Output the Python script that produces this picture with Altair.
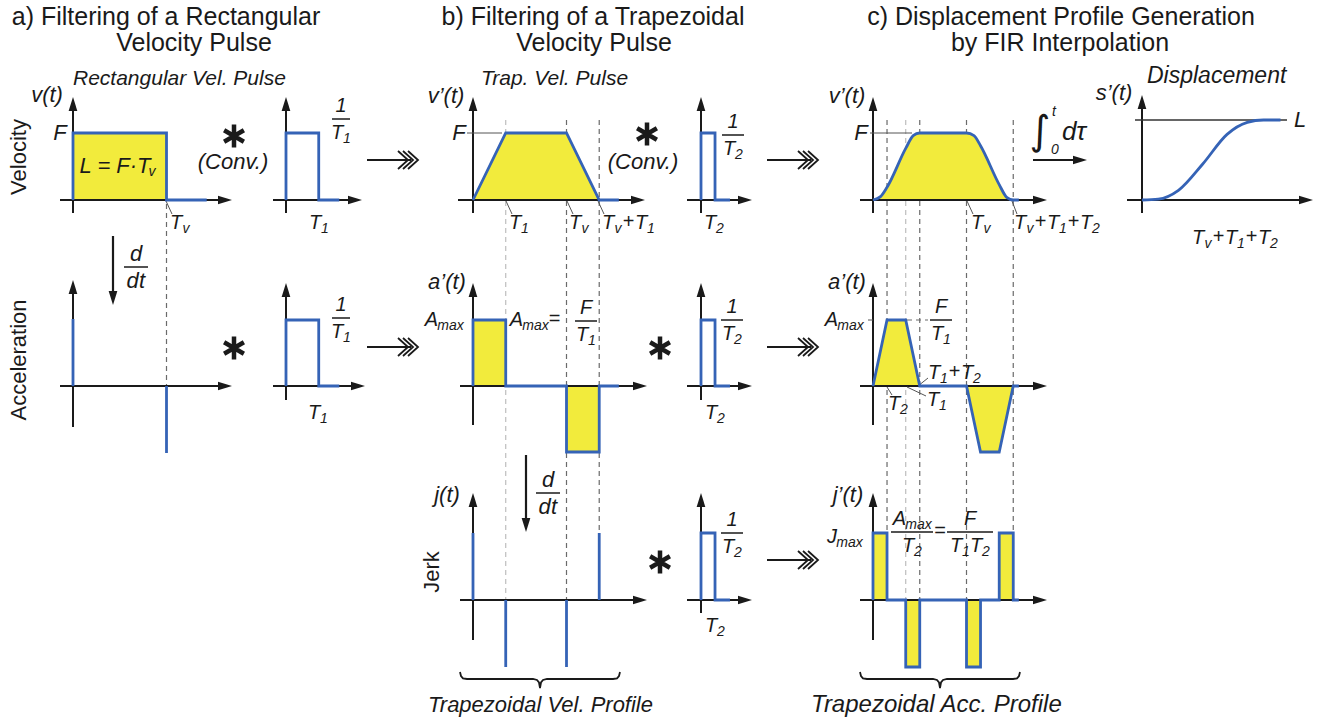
import altair as alt
import pandas as pd

W, H = 1330, 722
BLUE = "#3563b6"
YEL = "#f2eb3c"
INK = "#1a1a1a"
FONT = "Liberation Sans"

# ---------------- profile data (time in Tv units, amplitude normalised) -------------
rect_vel_t = [0, 0, 1.0, 1.0, 1.43]
rect_vel_v = [0, 1, 1, 0, 0]
filt1_t = [0, 0, 0.35, 0.35, 0.57]
filt1_v = [0, 1, 1, 0, 0]
filt2_t = [0, 0, 0.15, 0.15, 0.31]
filt2_v = [0, 1, 1, 0, 0]
acc_imp_t = [0, 1.0]
acc_imp_v = [1, -1]
trap_vel_t = [0, 0.35, 1.0, 1.35, 1.56]
trap_vel_v = [0, 1, 1, 0, 0]
trap_acc_t = [0, 0, 0.35, 0.35, 1.0, 1.0, 1.35, 1.35, 1.56]
trap_acc_v = [0, 1, 1, 0, 0, -1, -1, 0, 0]
jerk_imp_t = [0, 0.35, 1.0, 1.35]
jerk_imp_v = [1, -1, -1, 1]
fir_vel_t = [0, 0.08, 0.15, 0.35, 0.43, 0.5, 1.0, 1.08, 1.15, 1.35, 1.43, 1.5, 1.56]
fir_vel_v = [0, 0.05, 0.19, 0.77, 0.96, 1, 1, 0.96, 0.81, 0.23, 0.04, 0, 0]
fir_acc_t = [0, 0.15, 0.35, 0.5, 1.0, 1.15, 1.35, 1.5, 1.56]
fir_acc_v = [0, 1, 1, 0, 0, -1, -1, 0, 0]
fir_jerk_t = [0, 0, 0.15, 0.15, 0.35, 0.35, 0.5, 0.5, 1.0, 1.0, 1.15, 1.15, 1.35, 1.35, 1.5, 1.5, 1.56]
fir_jerk_v = [0, 1, 1, 0, 0, -1, -1, 0, 0, -1, -1, 0, 0, 1, 1, 0, 0]
disp_t = [0, 0.2, 0.45, 0.75, 1.05, 1.3, 1.5, 1.71]
disp_s = [0, 0.01, 0.12, 0.45, 0.82, 0.97, 1.0, 1.0]
dash_a_t = [1.0]
dash_b_t = [0.35, 1.0, 1.35]
dash_c_t = [0.15, 0.35, 0.5, 1.0, 1.5]

# ---------------- layout: panel origin (x0, baseline y0, px/time, px/amplitude) ------
PAN = {
    "A1": (73, 200, 93.5, 67), "A1f": (286, 200, 93.5, 67),
    "A2": (73, 386, 93.5, 67), "A2f": (286, 386, 93.5, 66),
    "B1": (473, 200, 93.5, 67), "B1f": (701, 200, 93.5, 67),
    "B2": (473, 386, 93.5, 66), "B2f": (701, 386, 93.5, 66),
    "B3": (473, 600, 93.5, 67), "B3f": (701, 600, 93.5, 67),
    "C1": (873, 200, 93.5, 67), "C2": (873, 386, 93.5, 66), "C3": (873, 600, 93.5, 67),
    "D": (1142, 200, 81, 80),
}
# axis extents: left, right, down, up (px)
AX = {
    "A1": (13, 159, 13, 103), "A1f": (13, 76, 13, 103),
    "A2": (13, 159, 41, 106), "A2f": (13, 79, 14, 103),
    "B1": (15, 172, 13, 103), "B1f": (14, 51, 13, 103),
    "B2": (13, 174, 39, 103), "B2f": (14, 51, 14, 103),
    "B3": (13, 174, 40, 107), "B3f": (14, 51, 13, 107),
    "C1": (13, 174, 13, 103), "C2": (13, 174, 39, 103), "C3": (13, 174, 40, 107),
    "D": (15, 171, 13, 105),
}


def px(p, t):
    return PAN[p][0] + t * PAN[p][2]


def py(p, v):
    return PAN[p][1] - v * PAN[p][3]


def prof(rows, pid, p, ts, vs):
    for i, (t, v) in enumerate(zip(ts, vs)):
        rows.append(dict(id=pid, o=i, x=px(p, t), y=py(p, v), base=PAN[p][1]))


fill_lin, fill_mono, strokes_lin, strokes_mono = [], [], [], []
prof(fill_lin, "A1", "A1", rect_vel_t, rect_vel_v)
prof(fill_lin, "B1", "B1", trap_vel_t, trap_vel_v)
prof(fill_lin, "B2", "B2", trap_acc_t, trap_acc_v)
prof(fill_lin, "C2", "C2", fir_acc_t, fir_acc_v)
prof(fill_lin, "C3", "C3", fir_jerk_t, fir_jerk_v)
prof(fill_mono, "C1", "C1", fir_vel_t, fir_vel_v)

prof(strokes_lin, "A1", "A1", rect_vel_t, rect_vel_v)
prof(strokes_lin, "A1f", "A1f", filt1_t, filt1_v)
prof(strokes_lin, "A2f", "A2f", filt1_t, filt1_v)
prof(strokes_lin, "B1", "B1", trap_vel_t, trap_vel_v)
prof(strokes_lin, "B1f", "B1f", filt2_t, filt2_v)
prof(strokes_lin, "B2", "B2", trap_acc_t, trap_acc_v)
prof(strokes_lin, "B2f", "B2f", filt2_t, filt2_v)
prof(strokes_lin, "B3f", "B3f", filt2_t, filt2_v)
prof(strokes_lin, "C2", "C2", fir_acc_t, fir_acc_v)
prof(strokes_lin, "C3", "C3", fir_jerk_t, fir_jerk_v)
prof(strokes_mono, "C1", "C1", fir_vel_t, fir_vel_v)
prof(strokes_mono, "D", "D", disp_t, disp_s)

segs = []


def seg(x, y, x2, y2, kind):
    segs.append(dict(x=x, y=y, x2=x2, y2=y2, kind=kind))


heads = []
for p, (l, r, d, u) in AX.items():
    x0, y0 = PAN[p][0], PAN[p][1]
    seg(x0 - l, y0, x0 + r - 4, y0, "axis")
    seg(x0, y0 + d, x0, y0 - u + 4, "axis")
    heads.append(dict(x=x0 + r, y=y0, ang=0))
    heads.append(dict(x=x0, y=y0 - u, ang=270))

for t, v in zip(acc_imp_t, acc_imp_v):
    seg(px("A2", t), py("A2", 0), px("A2", t), py("A2", v), "blue")
for t, v in zip(jerk_imp_t, jerk_imp_v):
    seg(px("B3", t), py("B3", 0), px("B3", t), py("B3", v), "blue")

for t in dash_a_t:
    seg(px("A1", t), 204, px("A1", t), 386, "dash_dark")
for t, bot in zip(dash_b_t, [600, 600, 532]):
    seg(px("B1", t), 120, px("B1", t), bot, "dash_light" if t == 0.35 else "dash_dark")
for t, bot in zip(dash_c_t, [532, 600, 600, 600, 532]):
    seg(px("C1", t), 120, px("C1", t), bot, "dash_light" if t == 0.35 else "dash_dark")
seg(907, 320, 928, 320, "dash_dark")

for (a, b, c, d) in [(166, 201, 172, 214), (506, 201, 512, 214), (567, 201, 573, 214),
                     (598, 201, 604, 214), (967, 201, 973, 214), (1012, 201, 1017, 214),
                     (467, 133, 502, 133), (870, 133, 912, 133),
                     (918, 386, 928, 378), (887, 387, 892, 395), (907, 387, 926, 396),
                     (868, 320, 873, 320)]:
    seg(a, b, c, d, "leader")
seg(px("D", 0) - 7, py("D", 1), px("D", 1.79), py("D", 1), "level")

seg(113, 236, 113, 298, "arrow"); heads.append(dict(x=113, y=305, ang=90))
seg(526, 455, 526, 525, "arrow"); heads.append(dict(x=526, y=532, ang=90))
seg(1033, 160, 1080, 160, "arrow"); heads.append(dict(x=1087, y=160, ang=0))

lines_k = []
cid = 0
for (xs0, ys0) in [(367, 160), (367, 347), (767, 160), (767, 347), (767, 560)]:
    seg(xs0, ys0, xs0 + 44, ys0, "arrow")
    for tip in [xs0 + 41, xs0 + 46, xs0 + 51]:
        for i, (dx, dy) in enumerate([(-10, -9), (0, 0), (-10, 9)]):
            lines_k.append(dict(id="c%d" % cid, o=i, x=tip + dx, y=ys0 + dy))
        cid += 1

for (xl, xr) in [(460, 620), (860, 1020)]:
    cx = (xl + xr) / 2
    pts = [(xl, 672), (xl + 1, 676), (xl + 3, 678.3), (xl + 7, 679), (cx - 7, 679),
           (cx - 3, 680), (cx - 1, 682.5), (cx, 688), (cx + 1, 682.5), (cx + 3, 680),
           (cx + 7, 679), (xr - 7, 679), (xr - 3, 678.3), (xr - 1, 676), (xr, 672)]
    for i, (a, b) in enumerate(pts):
        lines_k.append(dict(id="br%d" % xl, o=i, x=a, y=b))

stars = [dict(x=234, y=136), dict(x=234, y=348), dict(x=647, y=134),
         dict(x=660, y=348), dict(x=660, y=562)]

# ---------------- texts ----------------
texts = []


def T(text, x, y, size=20, style="italic", align="center", angle=0, font=FONT):
    texts.append(dict(text=text, x=x, y=y, size=size, style=style, align=align,
                      angle=angle, font=font))


WID = {"T": 12, "A": 13, "F": 12, "J": 10, "L": 11, "1": 10, "d": 12, "t": 7}


def parse(s):
    toks, i = [], 0
    while i < len(s):
        c = s[i]
        if c == "{":
            j = s.index("}", i)
            toks.append((s[i + 1:j], "s"))
            i = j + 1
        elif c in "+=":
            toks.append((c, "n"))
            i += 1
        else:
            toks.append((c, "m"))
            i += 1
    return toks


def tw(s, k):
    if k == "s":
        return 25 if s == "max" else 8
    if k == "n":
        return 13
    return WID.get(s, 12)


def label(x, y, s, size=20, sub=14, center=False):
    toks = parse(s)
    tot = sum(tw(a, k) for a, k in toks)
    cur = x - tot / 2 if center else x
    for a, k in toks:
        w = tw(a, k)
        if k == "s":
            T(a, cur + w / 2, y + 6, sub)
        elif k == "n":
            T(a, cur + w / 2, y - 1, size, "normal")
        else:
            T(a, cur + w / 2, y, size)
        cur += w


def frac(xc, yb, num, den, hw, size=20):
    seg(xc - hw, yb, xc + hw, yb, "frac")
    label(xc, yb - 13, num, size, center=True)
    label(xc, yb + 14, den, size, center=True)


for txt, x, y in [("a) Filtering of a Rectangular", 166, 17), ("Velocity Pulse", 194, 43),
                  ("b) Filtering of a Trapezoidal", 593, 17), ("Velocity Pulse", 594, 43),
                  ("c) Displacement Profile Generation", 1061, 17),
                  ("by FIR Interpolation", 1060, 43)]:
    T(txt, x, y, 25, "normal")
T("Rectangular Vel. Pulse", 73, 79, 21, align="left")
T("Trap. Vel. Pulse", 481, 79, 21, align="left")
T("Displacement", 1147, 76, 23, align="left")
T("Trapezoidal Vel. Profile", 428, 705, 22, align="left")
T("Trapezoidal Acc. Profile", 811, 705, 24, align="left")
T("Velocity", 19, 157, 22, "normal", angle=270)
T("Acceleration", 19, 360, 22, "normal", angle=270)
T("Jerk", 432, 572, 22, "normal", angle=270)
for txt, x, y in [("v(t)", 47, 95), ("v\u2019(t)", 446, 96), ("v\u2019(t)", 847, 96),
                  ("s\u2019(t)", 1114, 93), ("a\u2019(t)", 447, 282), ("a\u2019(t)", 847, 282),
                  ("j(t)", 447, 495), ("j\u2019(t)", 848, 495)]:
    T(txt, x, y, 22)
for txt, x, y in [("F", 60, 133), ("F", 459, 133), ("F", 861, 133), ("L", 1300, 120)]:
    T(txt, x, y, 22)
T("L = F\u00b7T", 115, 166, 22)
T("v", 152, 172, 14)
T("(Conv.)", 233, 162, 22)
T("(Conv.)", 643, 162, 22)

for x, y, s in [(170, 223, "T{v}"), (309, 223, "T{1}"), (509, 223, "T{1}"),
                (569, 223, "T{v}"), (602, 223, "T{v}+T{1}"), (704, 223, "T{2}"),
                (971, 223, "T{v}"), (1014, 223, "T{v}+T{1}+T{2}"),
                (1192, 238, "T{v}+T{1}+T{2}"),
                (308, 413, "T{1}"), (705, 413, "T{2}"),
                (928, 373, "T{1}+T{2}"), (888, 404, "T{2}"), (927, 400, "T{1}"),
                (705, 626, "T{2}"),
                (425, 320, "A{max}"), (510, 320, "A{max}="), (825, 320, "A{max}"),
                (827, 537, "J{max}")]:
    label(x, y, s)

frac(341, 119, "1", "T{1}", 9)
frac(341, 318, "1", "T{1}", 9)
frac(733, 135, "1", "T{2}", 11)
frac(732, 320, "1", "T{2}", 11)
frac(732, 533, "1", "T{2}", 11)
frac(586, 321, "F", "T{1}", 11)
frac(941, 320, "F", "T{1}", 11)
frac(912, 532, "A{max}", "T{2}", 21)
T("=", 940, 531, 20, "normal")
frac(970, 532, "F", "T{1}T{2}", 23)
frac(136, 267, "d", "dt", 12, 22)
frac(548, 493, "d", "dt", 12, 22)

T("\u222b", 1040, 132, 40, "normal", font="DejaVu Sans")
T("t", 1054, 112, 14)
T("0", 1055, 150, 14)
T("d\u03c4", 1074, 132, 26)

# ---------------- chart ----------------
xs = alt.Scale(domain=[0, W], nice=False, zero=False)
ys = alt.Scale(domain=[0, H], nice=False, zero=False, reverse=True)


def X(f="x"):
    return alt.X(f + ":Q", scale=xs, axis=None)


def Y(f="y"):
    return alt.Y(f + ":Q", scale=ys, axis=None, stack=None)


segdf = pd.DataFrame(segs)
layers = []


def rules(kind, color, width, dash=None):
    d = segdf[segdf.kind == kind]
    kw = dict(color=color, strokeWidth=width)
    if dash:
        kw["strokeDash"] = dash
    return alt.Chart(d).mark_rule(**kw).encode(
        x=X(), y=Y(), x2=alt.X2("x2:Q"), y2=alt.Y2("y2:Q"))


layers.append(rules("dash_light", "#bdbdbd", 1.2, [5, 4]))
layers.append(rules("dash_dark", "#6a6a6a", 1.2, [5, 4]))

for rows, interp in [(fill_lin, "linear"), (fill_mono, "monotone")]:
    layers.append(alt.Chart(pd.DataFrame(rows)).mark_area(
        fill=YEL, fillOpacity=1, opacity=1, interpolate=interp, orient="vertical")
        .encode(x=X(), y=Y(), y2=alt.Y2("base:Q"), detail="id:N"))

layers.append(rules("axis", INK, 2))
layers.append(rules("leader", "#555555", 1))
layers.append(rules("level", "#333333", 1.5))
layers.append(rules("frac", INK, 1.5))
layers.append(rules("arrow", INK, 2.2))

line_enc = dict(x=X(), y=Y(), detail="id:N", order="o:Q")
layers.append(alt.Chart(pd.DataFrame(lines_k)).mark_line(color=INK, strokeWidth=1.8)
              .encode(**line_enc))
layers.append(rules("blue", BLUE, 2.8))
layers.append(alt.Chart(pd.DataFrame(strokes_lin)).mark_line(color=BLUE, strokeWidth=2.8,
                                                             strokeJoin="miter")
              .encode(**line_enc))
layers.append(alt.Chart(pd.DataFrame(strokes_mono)).mark_line(color=BLUE, strokeWidth=2.8,
                                                              interpolate="monotone")
              .encode(**line_enc))

ARROW = "M0,0L-2,-0.62L-2,0.62Z"
layers.append(alt.Chart(pd.DataFrame(heads)).mark_point(
    shape=ARROW, filled=True, size=196, color=INK, opacity=1, strokeWidth=0)
    .encode(x=X(), y=Y(), angle=alt.Angle("ang:Q", scale=None)))

STAR = "M0,-1L0,1M-0.866,-0.5L0.866,0.5M-0.866,0.5L0.866,-0.5"
layers.append(alt.Chart(pd.DataFrame(stars)).mark_point(
    shape=STAR, filled=False, size=520, color=INK, opacity=1, strokeWidth=4.5)
    .encode(x=X(), y=Y()))

tdf = pd.DataFrame(texts)
for (style, align, angle, font), g in tdf.groupby(["style", "align", "angle", "font"]):
    kw = dict(font=font, fontStyle=style, align=align, baseline="middle", color=INK)
    if angle:
        kw["angle"] = int(angle)
    layers.append(alt.Chart(g).mark_text(**kw).encode(
        x=X(), y=Y(), text="text:N", size=alt.Size("size:Q", scale=None)))

chart = alt.layer(*layers).properties(
    width=W, height=H, padding=0, background="white",
    autosize=alt.AutoSizeParams(type="none")
).configure_view(stroke=None)

chart.save("out.html", embed_options={"renderer": "svg", "actions": False})
